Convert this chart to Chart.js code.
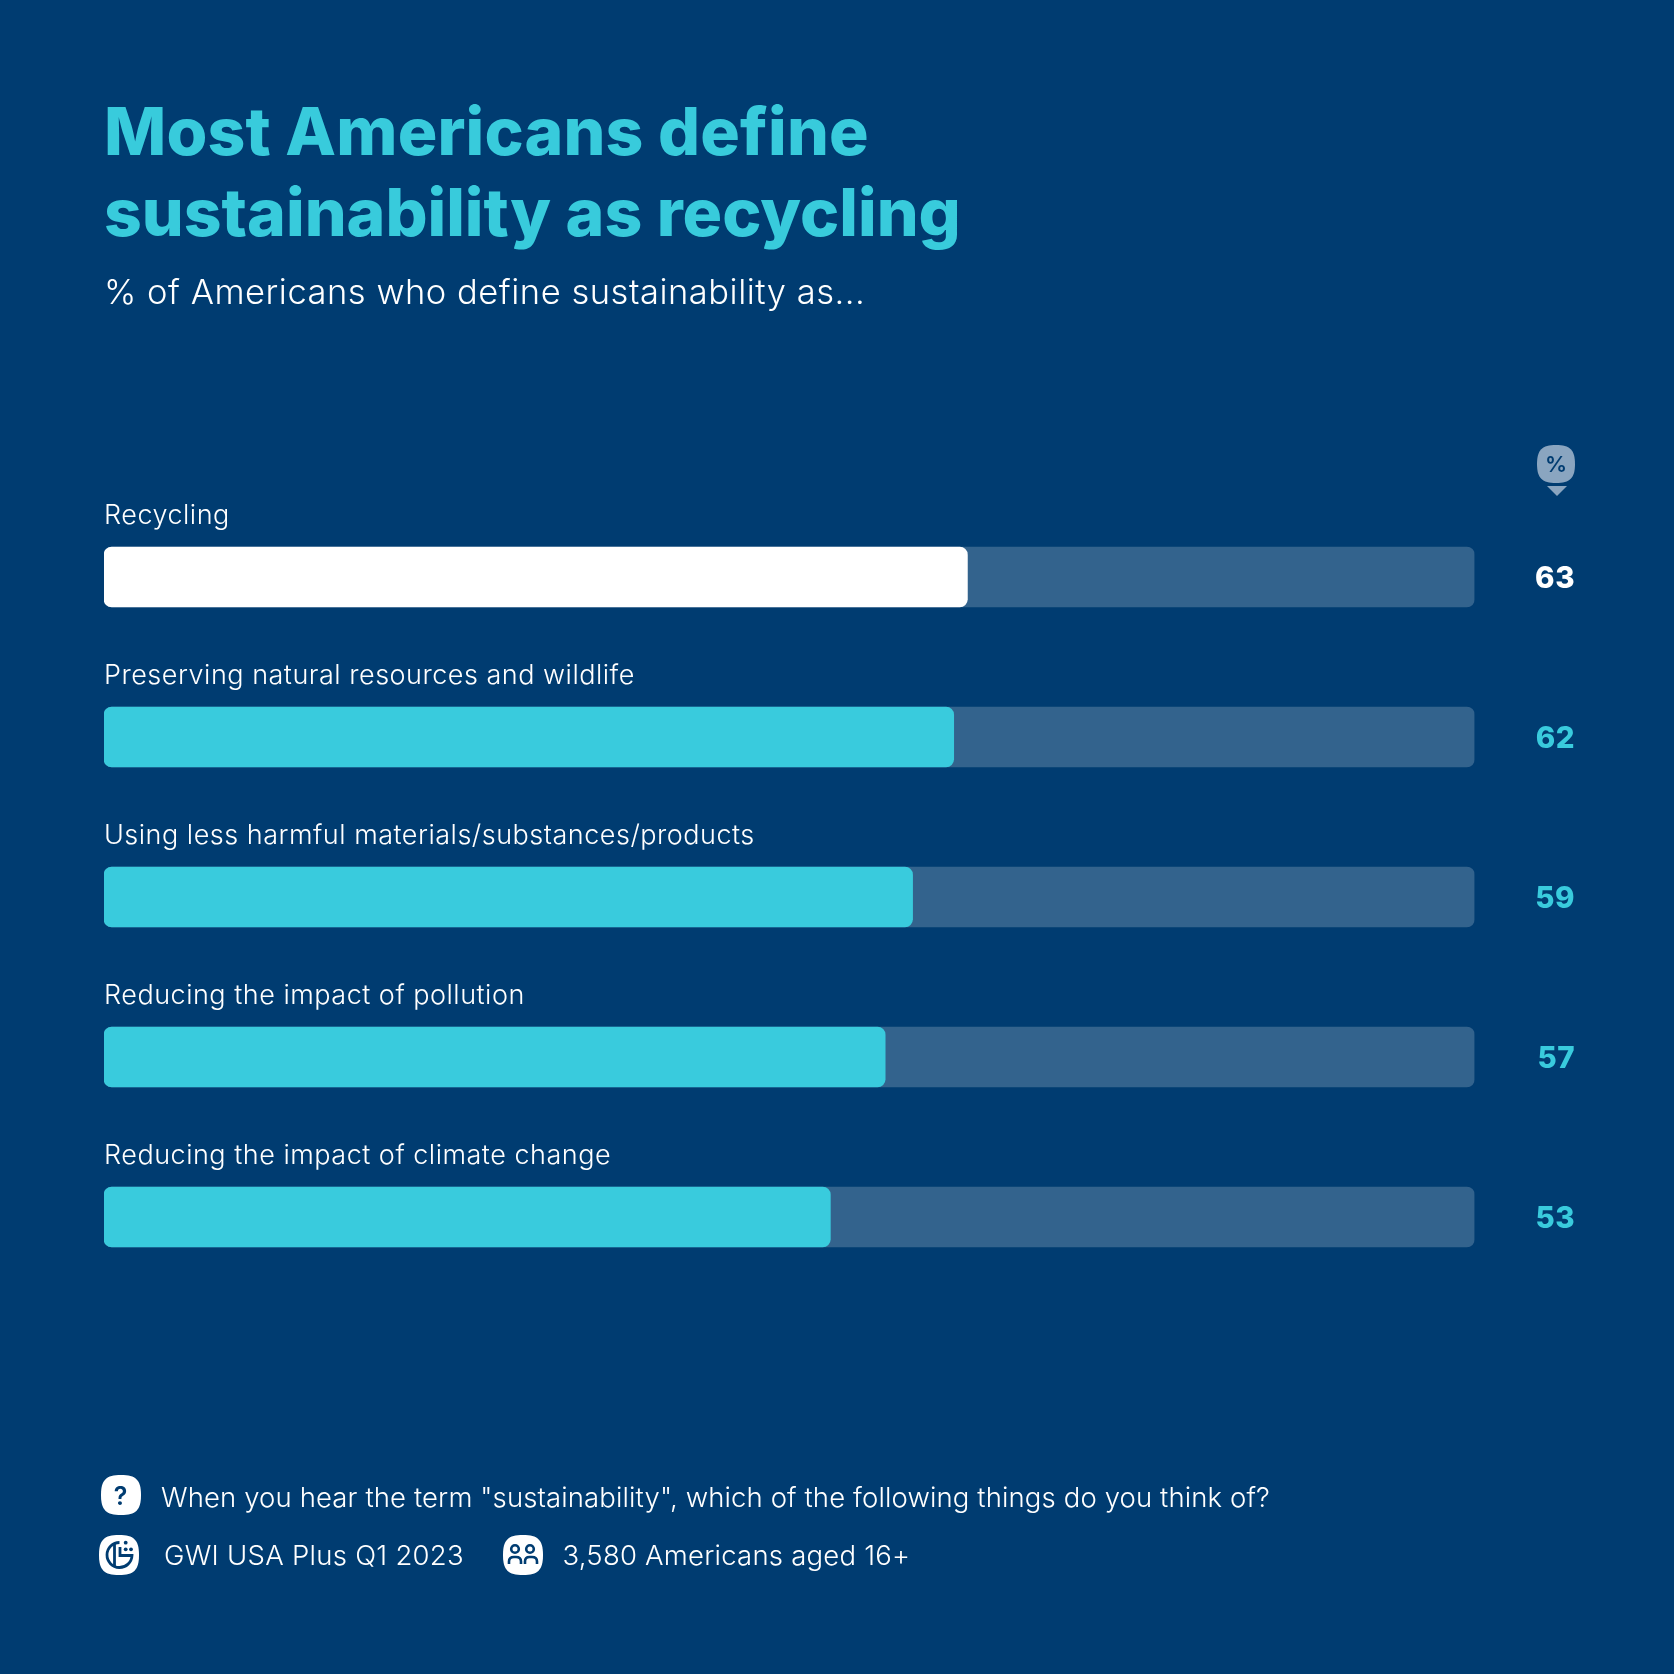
<!DOCTYPE html>
<html><head><meta charset="utf-8">
<style>
html,body{margin:0;padding:0;background:#003C71;}
#page{position:relative;width:1674px;height:1674px;background:#003C71;overflow:hidden;font-family:Inter,sans-serif;color:#fff;}
#c{position:absolute;left:0;top:0;}
.t{position:absolute;white-space:nowrap;line-height:1;}
.title{left:104px;font-size:66px;font-weight:800;color:#38CBDC;}
.sub{left:104px;top:275px;font-size:34.5px;font-weight:300;letter-spacing:0.52px;}
.foot{font-size:27.5px;font-weight:300;}
svg{position:absolute;}
</style></head><body>
<div id="page">
<canvas id="c" width="1674" height="1674"></canvas>
<div class="t title" style="top:98px;letter-spacing:0.15px">Most Americans define</div>
<div class="t title" style="top:179px;letter-spacing:0">sustainability as recycling</div>
<div class="t sub">% of Americans who define sustainability as...</div>

<svg style="left:1537px;top:445px" width="38" height="52" viewBox="0 0 38 52">
  <path d="M19 0C33 0 38 5 38 19S33 38 19 38 0 33 0 19 5 0 19 0Z" fill="#8AA5C0"/>
  <path d="M10 41H30L20 51Z" fill="#8AA5C0"/>
  <text x="19" y="27" text-anchor="middle" font-family="Inter" font-weight="600" font-size="22" fill="#003C71">%</text>
</svg>

<svg style="left:101px;top:1475px" width="40" height="40" viewBox="0 0 40 40">
  <path d="M20 0C35 0 40 5 40 20S35 40 20 40 0 35 0 20 5 0 20 0Z" fill="#fff"/>
  <text x="19.5" y="30" text-anchor="middle" font-family="Inter" font-weight="600" font-size="25" fill="#003C71">?</text>
</svg>
<div class="t foot" style="left:161px;top:1484px;letter-spacing:0.12px">When you hear the term "sustainability", which of the following things do you think of?</div>

<svg style="left:99px;top:1535px" width="40" height="40" viewBox="0 0 40 40">
  <path d="M20 0C35 0 40 5 40 20S35 40 20 40 0 35 0 20 5 0 20 0Z" fill="#fff"/>
  <path d="M20.5 7.5A12.5 12.5 0 1 0 33 20.5H21V12" fill="none" stroke="#003C71" stroke-width="2.8"/>
  <path d="M15.5 9V31" stroke="#003C71" stroke-width="2.8"/>
  <circle cx="26.7" cy="7.7" r="1.9" fill="#003C71"/>
  <circle cx="26.7" cy="14.3" r="1.9" fill="#003C71"/><circle cx="32" cy="14.3" r="1.9" fill="#003C71"/>
</svg>
<div class="t foot" style="left:164px;top:1542px;letter-spacing:0.27px">GWI USA Plus Q1 2023</div>

<svg style="left:503px;top:1535px" width="40" height="40" viewBox="0 0 40 40">
  <path d="M20 0C35 0 40 5 40 20S35 40 20 40 0 35 0 20 5 0 20 0Z" fill="#fff"/>
  <g fill="none" stroke="#003C71" stroke-width="2.6">
    <circle cx="12" cy="14" r="3.8"/><circle cx="27" cy="14" r="3.8"/>
    <path d="M6 29V26.5Q6 22 11 22H13Q18 22 18 26.5V29"/><path d="M22 29V26.5Q22 22 26.5 22H29Q34 22 34 26.5V29"/>
  </g>
</svg>
<div class="t foot" style="left:562.5px;top:1542px;letter-spacing:0.22px">3,580 Americans aged 16+</div>
</div>

<script src="https://cdn.jsdelivr.net/npm/chart.js@4/dist/chart.umd.min.js"></script>
<script>
const categories = ["Recycling","Preserving natural resources and wildlife","Using less harmful materials/substances/products","Reducing the impact of pollution","Reducing the impact of climate change"];
const values = [63,62,59,57,53];
const trackValues = [100,100,100,100,100];
const valueLabels = ["63","62","59","57","53"];
const highlightColor = "#FFFFFF";
const barColor = "#39CBDD";
const trackColor = "#33638D";

const textSpacing = {id:'textSpacing',beforeDraw(chart){chart.ctx.letterSpacing='0.5px';}};

new Chart(document.getElementById('c'),{
  type:'bar',
  data:{labels:categories,datasets:[
    {label:'Share',data:values,backgroundColor:values.map((v,i)=>i===0?highlightColor:barColor),order:1,barThickness:60,borderRadius:8,borderSkipped:false,yAxisID:'y'},
    {label:'Total',data:trackValues,backgroundColor:trackColor,order:2,barThickness:60,borderRadius:8,borderSkipped:false,yAxisID:'y'}
  ]},
  plugins:[textSpacing],
  options:{
    indexAxis:'y',responsive:false,animation:false,devicePixelRatio:1,
    layout:{padding:{left:104,right:99,top:497,bottom:377}},
    datasets:{bar:{grouped:false}},
    plugins:{legend:{display:false},tooltip:{enabled:false}},
    scales:{
      x:{min:0,max:100,display:false},
      y:{type:'category',offset:true,border:{display:false},grid:{display:false,drawTicks:false},
         afterFit:s=>{s.width=0;},
         ticks:{mirror:true,padding:0,labelOffset:-61,color:'#fff',font:{family:'Inter',size:27,weight:300}}},
      y2:{type:'category',labels:valueLabels,position:'right',offset:true,border:{display:false},grid:{display:false,drawTicks:false},
         afterFit:s=>{s.width=100.5;},
         ticks:{crossAlign:'far',padding:0,labelOffset:2,color:c=>c.index===0?highlightColor:barColor,font:{family:'Inter',size:29.5,weight:800}}}
    }
  }
});
</script>
</body></html>
